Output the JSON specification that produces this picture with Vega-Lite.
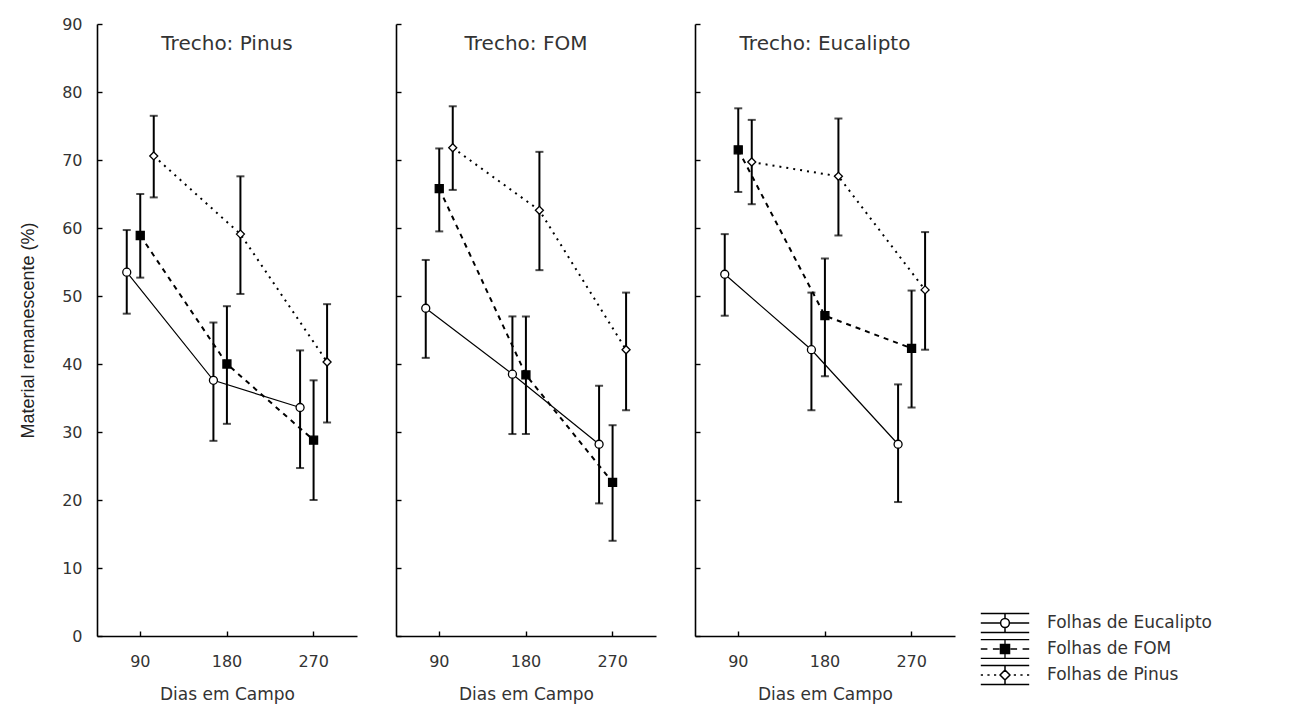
{
  "$schema": "https://vega.github.io/schema/vega-lite/v6.json",
  "background": "white",
  "padding": {"left": 19, "top": 16, "right": 5, "bottom": 2},
  "spacing": 38,
  "resolve": {"legend": {"opacity": "independent", "strokeWidth": "independent", "stroke": "independent"}},
  "config": {
    "view": {"stroke": null},
    "font": "DejaVu Sans",
    "axis": {
      "grid": false,
      "domainColor": "black",
      "domainWidth": 1.6,
      "tickColor": "black",
      "tickWidth": 1.4,
      "tickSize": -5,
      "labelFont": "DejaVu Sans",
      "labelFontSize": 16,
      "labelColor": "#333333",
      "titleFont": "DejaVu Sans",
      "titleFontSize": 17,
      "titleFontWeight": "normal",
      "titleColor": "#333333"
    },
    "axisX": {"labelPadding": 22, "titlePadding": 17, "labelAngle": 0},
    "axisY": {"labelPadding": 20, "titlePadding": 24, "titleFont": "Liberation Sans", "titleFontSize": 18, "titleColor": "#222222"},
    "legend": {
      "orient": "none", "title": null, "symbolSize": 484, "symbolStrokeWidth": 1.5, "symbolOpacity": 1,
      "labelFont": "DejaVu Sans", "labelFontSize": 17, "labelColor": "#333333", "labelOffset": 30, "labelLimit": 0
    }
  },
  "datasets": {
    "decomposicao": [
      {"trecho": "Pinus", "serie": "Folhas de Eucalipto", "dias": 90, "media": 53.5, "inf": 47.4, "sup": 59.7},
      {"trecho": "Pinus", "serie": "Folhas de Eucalipto", "dias": 180, "media": 37.6, "inf": 28.7, "sup": 46.1},
      {"trecho": "Pinus", "serie": "Folhas de Eucalipto", "dias": 270, "media": 33.6, "inf": 24.7, "sup": 42.0},
      {"trecho": "Pinus", "serie": "Folhas de FOM", "dias": 90, "media": 58.9, "inf": 52.7, "sup": 65.0},
      {"trecho": "Pinus", "serie": "Folhas de FOM", "dias": 180, "media": 40.0, "inf": 31.2, "sup": 48.5},
      {"trecho": "Pinus", "serie": "Folhas de FOM", "dias": 270, "media": 28.8, "inf": 20.0, "sup": 37.6},
      {"trecho": "Pinus", "serie": "Folhas de Pinus", "dias": 90, "media": 70.6, "inf": 64.5, "sup": 76.5},
      {"trecho": "Pinus", "serie": "Folhas de Pinus", "dias": 180, "media": 59.1, "inf": 50.3, "sup": 67.6},
      {"trecho": "Pinus", "serie": "Folhas de Pinus", "dias": 270, "media": 40.3, "inf": 31.4, "sup": 48.8},
      {"trecho": "FOM", "serie": "Folhas de Eucalipto", "dias": 90, "media": 48.2, "inf": 40.9, "sup": 55.3},
      {"trecho": "FOM", "serie": "Folhas de Eucalipto", "dias": 180, "media": 38.5, "inf": 29.7, "sup": 47.0},
      {"trecho": "FOM", "serie": "Folhas de Eucalipto", "dias": 270, "media": 28.2, "inf": 19.5, "sup": 36.8},
      {"trecho": "FOM", "serie": "Folhas de FOM", "dias": 90, "media": 65.8, "inf": 59.5, "sup": 71.7},
      {"trecho": "FOM", "serie": "Folhas de FOM", "dias": 180, "media": 38.4, "inf": 29.7, "sup": 47.0},
      {"trecho": "FOM", "serie": "Folhas de FOM", "dias": 270, "media": 22.6, "inf": 14.0, "sup": 31.0},
      {"trecho": "FOM", "serie": "Folhas de Pinus", "dias": 90, "media": 71.8, "inf": 65.6, "sup": 77.9},
      {"trecho": "FOM", "serie": "Folhas de Pinus", "dias": 180, "media": 62.6, "inf": 53.8, "sup": 71.2},
      {"trecho": "FOM", "serie": "Folhas de Pinus", "dias": 270, "media": 42.1, "inf": 33.2, "sup": 50.5},
      {"trecho": "Eucalipto", "serie": "Folhas de Eucalipto", "dias": 90, "media": 53.2, "inf": 47.1, "sup": 59.1},
      {"trecho": "Eucalipto", "serie": "Folhas de Eucalipto", "dias": 180, "media": 42.1, "inf": 33.2, "sup": 50.5},
      {"trecho": "Eucalipto", "serie": "Folhas de Eucalipto", "dias": 270, "media": 28.2, "inf": 19.7, "sup": 37.0},
      {"trecho": "Eucalipto", "serie": "Folhas de FOM", "dias": 90, "media": 71.5, "inf": 65.3, "sup": 77.6},
      {"trecho": "Eucalipto", "serie": "Folhas de FOM", "dias": 180, "media": 47.1, "inf": 38.2, "sup": 55.5},
      {"trecho": "Eucalipto", "serie": "Folhas de FOM", "dias": 270, "media": 42.3, "inf": 33.6, "sup": 50.8},
      {"trecho": "Eucalipto", "serie": "Folhas de Pinus", "dias": 90, "media": 69.7, "inf": 63.5, "sup": 75.9},
      {"trecho": "Eucalipto", "serie": "Folhas de Pinus", "dias": 180, "media": 67.6, "inf": 58.9, "sup": 76.1},
      {"trecho": "Eucalipto", "serie": "Folhas de Pinus", "dias": 270, "media": 50.9, "inf": 42.1, "sup": 59.4}
    ]
  },
  "hconcat": [
    {
      "width": 260,
      "height": 612,
      "data": {"name": "decomposicao"},
      "transform": [{"filter": "datum.trecho === 'Pinus'"}],
      "encoding": {
        "x": {"field": "dias", "type": "ordinal", "title": "Dias em Campo", "scale": {"type": "band", "paddingInner": 0, "paddingOuter": 0}},
        "xOffset": {"field": "serie", "type": "nominal", "scale": {"type": "band", "domain": ["Folhas de Eucalipto", "Folhas de FOM", "Folhas de Pinus"], "range": [23, 63.5], "paddingInner": 0, "paddingOuter": 0}},
        "y": {"type": "quantitative", "scale": {"domain": [0, 90], "nice": false, "zero": true}, "axis": {"values": [0, 10, 20, 30, 40, 50, 60, 70, 80, 90], "title": "Material remanescente (%)"}}
      },
      "layer": [
        {"transform": [{"filter": "datum.serie === 'Folhas de Eucalipto'"}], "mark": {"type": "line", "color": "black", "strokeWidth": 1.2}, "encoding": {"y": {"field": "media"}}},
        {"transform": [{"filter": "datum.serie === 'Folhas de FOM'"}], "mark": {"type": "line", "color": "black", "strokeWidth": 2, "strokeDash": [5, 5]}, "encoding": {"y": {"field": "media"}}},
        {"transform": [{"filter": "datum.serie === 'Folhas de Pinus'"}], "mark": {"type": "line", "color": "black", "strokeWidth": 2, "strokeDash": [2, 5]}, "encoding": {"y": {"field": "media"}}},
        {"mark": {"type": "rule", "color": "black", "strokeWidth": 2}, "encoding": {"y": {"field": "inf"}, "y2": {"field": "sup"}}},
        {"mark": {"type": "tick", "color": "black", "size": 8, "thickness": 2}, "encoding": {"y": {"field": "inf"}}},
        {"mark": {"type": "tick", "color": "black", "size": 8, "thickness": 2}, "encoding": {"y": {"field": "sup"}}},
        {
          "mark": {"type": "point", "filled": true, "stroke": "black", "strokeWidth": 1.3, "size": 64, "opacity": 1},
          "encoding": {
            "y": {"field": "media"},
            "shape": {"field": "serie", "type": "nominal", "scale": {"range": ["circle", "square", "diamond"]}, "legend": null},
            "fill": {"field": "serie", "type": "nominal", "scale": {"range": ["white", "black", "white"]}, "legend": null}
          }
        },
        {
          "data": {"values": [{"rotulo": "Trecho: Pinus"}]},
          "mark": {"type": "text", "font": "DejaVu Sans", "fontSize": 20, "color": "#333333", "baseline": "middle"},
          "encoding": {"x": {"datum": 180, "type": "ordinal"}, "xOffset": null, "y": {"datum": 87, "type": "quantitative"}, "text": {"field": "rotulo"}}
        }
      ]
    },
    {
      "width": 260,
      "height": 612,
      "data": {"name": "decomposicao"},
      "transform": [{"filter": "datum.trecho === 'FOM'"}],
      "encoding": {
        "x": {"field": "dias", "type": "ordinal", "title": "Dias em Campo", "scale": {"type": "band", "paddingInner": 0, "paddingOuter": 0}},
        "xOffset": {"field": "serie", "type": "nominal", "scale": {"type": "band", "domain": ["Folhas de Eucalipto", "Folhas de FOM", "Folhas de Pinus"], "range": [23, 63.5], "paddingInner": 0, "paddingOuter": 0}},
        "y": {"type": "quantitative", "scale": {"domain": [0, 90], "nice": false, "zero": true}, "axis": {"values": [0, 10, 20, 30, 40, 50, 60, 70, 80, 90], "labels": false, "title": null}}
      },
      "layer": [
        {"transform": [{"filter": "datum.serie === 'Folhas de Eucalipto'"}], "mark": {"type": "line", "color": "black", "strokeWidth": 1.2}, "encoding": {"y": {"field": "media"}}},
        {"transform": [{"filter": "datum.serie === 'Folhas de FOM'"}], "mark": {"type": "line", "color": "black", "strokeWidth": 2, "strokeDash": [5, 5]}, "encoding": {"y": {"field": "media"}}},
        {"transform": [{"filter": "datum.serie === 'Folhas de Pinus'"}], "mark": {"type": "line", "color": "black", "strokeWidth": 2, "strokeDash": [2, 5]}, "encoding": {"y": {"field": "media"}}},
        {"mark": {"type": "rule", "color": "black", "strokeWidth": 2}, "encoding": {"y": {"field": "inf"}, "y2": {"field": "sup"}}},
        {"mark": {"type": "tick", "color": "black", "size": 8, "thickness": 2}, "encoding": {"y": {"field": "inf"}}},
        {"mark": {"type": "tick", "color": "black", "size": 8, "thickness": 2}, "encoding": {"y": {"field": "sup"}}},
        {
          "mark": {"type": "point", "filled": true, "stroke": "black", "strokeWidth": 1.3, "size": 64, "opacity": 1},
          "encoding": {
            "y": {"field": "media"},
            "shape": {"field": "serie", "type": "nominal", "scale": {"range": ["circle", "square", "diamond"]}, "legend": null},
            "fill": {"field": "serie", "type": "nominal", "scale": {"range": ["white", "black", "white"]}, "legend": null}
          }
        },
        {
          "data": {"values": [{"rotulo": "Trecho: FOM"}]},
          "mark": {"type": "text", "font": "DejaVu Sans", "fontSize": 20, "color": "#333333", "baseline": "middle"},
          "encoding": {"x": {"datum": 180, "type": "ordinal"}, "xOffset": null, "y": {"datum": 87, "type": "quantitative"}, "text": {"field": "rotulo"}}
        }
      ]
    },
    {
      "width": 260,
      "height": 612,
      "data": {"name": "decomposicao"},
      "transform": [{"filter": "datum.trecho === 'Eucalipto'"}],
      "encoding": {
        "x": {"field": "dias", "type": "ordinal", "title": "Dias em Campo", "scale": {"type": "band", "paddingInner": 0, "paddingOuter": 0}},
        "xOffset": {"field": "serie", "type": "nominal", "scale": {"type": "band", "domain": ["Folhas de Eucalipto", "Folhas de FOM", "Folhas de Pinus"], "range": [23, 63.5], "paddingInner": 0, "paddingOuter": 0}},
        "y": {"type": "quantitative", "scale": {"domain": [0, 90], "nice": false, "zero": true}, "axis": {"values": [0, 10, 20, 30, 40, 50, 60, 70, 80, 90], "labels": false, "title": null}}
      },
      "layer": [
        {"transform": [{"filter": "datum.serie === 'Folhas de Eucalipto'"}], "mark": {"type": "line", "color": "black", "strokeWidth": 1.2}, "encoding": {"y": {"field": "media"}}},
        {"transform": [{"filter": "datum.serie === 'Folhas de FOM'"}], "mark": {"type": "line", "color": "black", "strokeWidth": 2, "strokeDash": [5, 5]}, "encoding": {"y": {"field": "media"}}},
        {"transform": [{"filter": "datum.serie === 'Folhas de Pinus'"}], "mark": {"type": "line", "color": "black", "strokeWidth": 2, "strokeDash": [2, 5]}, "encoding": {"y": {"field": "media"}}},
        {"mark": {"type": "rule", "color": "black", "strokeWidth": 2}, "encoding": {"y": {"field": "inf"}, "y2": {"field": "sup"}}},
        {"mark": {"type": "tick", "color": "black", "size": 8, "thickness": 2}, "encoding": {"y": {"field": "inf"}}},
        {"mark": {"type": "tick", "color": "black", "size": 8, "thickness": 2}, "encoding": {"y": {"field": "sup"}}},
        {
          "mark": {"type": "point", "filled": true, "size": 64},
          "encoding": {
            "y": {"field": "media"},
            "shape": {"field": "serie", "type": "nominal", "scale": {"range": ["circle", "square", "diamond"]}, "legend": null},
            "fill": {"field": "serie", "type": "nominal", "scale": {"range": ["white", "black", "white"]}, "legend": null},
            "opacity": {"field": "serie", "type": "nominal", "scale": {"type": "ordinal", "domain": ["Folhas de Eucalipto", "Folhas de FOM", "Folhas de Pinus"], "range": [1, 1, 1]},
              "legend": {"values": ["Folhas de Eucalipto"], "legendX": 298, "legendY": 587, "symbolFillColor": "white", "symbolStrokeColor": "black",
                "symbolType": "M-2.2,-0.86L2.2,-0.86M-2.2,0.86L2.2,0.86M0,-0.86L0,-0.4M0,0.4L0,0.86M-2.2,0L-0.4,0M0.4,0L2.2,0M0.4,0A0.4,0.4,0,1,1,-0.4,0A0.4,0.4,0,1,1,0.4,0Z"}},
            "strokeWidth": {"field": "serie", "type": "nominal", "scale": {"type": "ordinal", "domain": ["Folhas de FOM", "Folhas de Eucalipto", "Folhas de Pinus"], "range": [1.3, 1.3, 1.3]},
              "legend": {"values": ["Folhas de FOM"], "legendX": 298, "legendY": 613, "symbolFillColor": "black", "symbolStrokeColor": "black",
                "symbolType": "M-2.2,-0.86L2.2,-0.86M-2.2,0.86L2.2,0.86M0,-0.86L0,-0.42M0,0.42L0,0.86M-2.2,0L-1.6,0M-1.1,0L-0.5,0M0.5,0L1.1,0M1.6,0L2.2,0M-0.42,-0.42L0.42,-0.42L0.42,0.42L-0.42,0.42Z"}},
            "stroke": {"field": "serie", "type": "nominal", "scale": {"domain": ["Folhas de Pinus", "Folhas de Eucalipto", "Folhas de FOM"], "range": ["black", "black", "black"]},
              "legend": {"values": ["Folhas de Pinus"], "legendX": 298, "legendY": 639, "symbolFillColor": "white", "symbolStrokeColor": "black",
                "symbolType": "M-2.2,-0.86L2.2,-0.86M-2.2,0.86L2.2,0.86M0,-0.86L0,-0.45M0,0.45L0,0.86M-2.2,0L-2,0M-1.6,0L-1.4,0M-1,0L-0.8,0M0.8,0L1,0M1.4,0L1.6,0M2,0L2.2,0M0,-0.45L0.45,0L0,0.45L-0.45,0Z"}}
          }
        },
        {
          "data": {"values": [{"rotulo": "Trecho: Eucalipto"}]},
          "mark": {"type": "text", "font": "DejaVu Sans", "fontSize": 20, "color": "#333333", "baseline": "middle"},
          "encoding": {"x": {"datum": 180, "type": "ordinal"}, "xOffset": null, "y": {"datum": 87, "type": "quantitative"}, "text": {"field": "rotulo"}}
        }
      ]
    }
  ]
}
